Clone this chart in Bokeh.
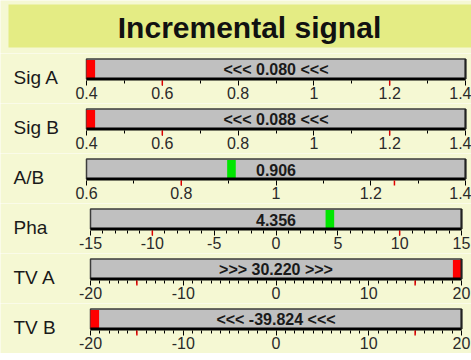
from bokeh.plotting import figure
from bokeh.models import Range1d, LinearAxis, FixedTicker, NumeralTickFormatter
from bokeh.layouts import column
from bokeh.core.properties import value
from bokeh.embed import file_html
from bokeh.resources import INLINE

# ---- data ----
TITLE = "Incremental signal"
names = ["Sig A", "Sig B", "A/B", "Pha", "TV A", "TV B"]
values = [0.080, 0.088, 0.906, 4.356, 30.220, -39.824]
starts = [0.4, 0.4, 0.6, -15, -20, -20]
ends = [1.4, 1.4, 1.4, 15, 20, 20]
lo_limits = [0.6, 0.6, 0.8, -10, -15, -15]
hi_limits = [1.2, 1.2, 1.25, 10, 15, 15]
major_ticks = [
    [0.4, 0.6, 0.8, 1.0, 1.2, 1.4],
    [0.4, 0.6, 0.8, 1.0, 1.2, 1.4],
    [0.6, 0.8, 1.0, 1.2, 1.4],
    [-15, -10, -5, 0, 5, 10, 15],
    [-20, -10, 0, 10, 20],
    [-20, -10, 0, 10, 20],
]
minor_per_major = [2, 2, 2, 5, 10, 10]

# ---- style / layout ----
BG = "#f5f8d3"
BAND = "#e4ec84"
BARC = "#c0c0c0"
FONT = "Liberation Sans"
W = 471
ROW_H = 50
TITLE_H = 53
BAR_TOP = 5.5
BAR_BOT = 25.5
AXIS_Y = 27

plots = []

t = figure(width=W, height=TITLE_H, x_range=Range1d(0, W), y_range=Range1d(TITLE_H, 0),
           x_axis_type=None, y_axis_type=None, toolbar_location=None,
           output_backend="svg", min_border_left=0, min_border_right=0,
           min_border_top=0, min_border_bottom=0,
           background_fill_color=BG, border_fill_color=BG, outline_line_color=None)
t.quad(left=[8], right=[W], top=[4], bottom=[47], fill_color=BAND, line_color=None)
t.text(x=[249], y=[26.5], text=[TITLE], text_font=value(FONT), text_font_style="bold",
       text_font_size="30px", text_align="center", text_baseline="middle", text_color="#111111")
plots.append(t)

for i, name in enumerate(names):
    s, e = starts[i], ends[i]
    wide = abs(s) >= 10
    px_l, px_r = (90, 461) if wide else (86, 465)
    k = (e - s) / (px_r - px_l)
    x0, x1 = s - px_l * k, e + (W - px_r) * k
    p = figure(width=W, height=ROW_H, x_range=Range1d(x0, x1), y_range=Range1d(ROW_H, 0),
               x_axis_type=None, y_axis_type=None, toolbar_location=None,
               output_backend="svg", min_border_left=0, min_border_right=0,
               min_border_top=0, min_border_bottom=0,
               background_fill_color=BG, border_fill_color=BG, outline_line_color=None)
    # track
    p.quad(left=[s], right=[e], bottom=[BAR_BOT], top=[BAR_TOP], fill_color=BARC,
           line_color="#3c3c3c", line_width=1.5)
    # marker
    v = values[i]
    half = 4.3 * k
    cx = min(max(v, s + half), e - half)
    col = "#00e600" if lo_limits[i] <= v <= hi_limits[i] else "#ff0000"
    p.quad(left=[cx - half], right=[cx + half], bottom=[BAR_BOT - 0.5], top=[BAR_TOP + 1],
           fill_color=col, line_color=None)
    # bottom black line
    p.segment(x0=[s], y0=[BAR_BOT], x1=[e], y1=[BAR_BOT], line_color="black", line_width=3)
    # right edge
    p.segment(x0=[e], y0=[BAR_TOP], x1=[e], y1=[BAR_BOT], line_color="#222222", line_width=2)
    # value text
    if v < s:
        txt = "<<< %.3f <<<" % v
    elif v > e:
        txt = ">>> %.3f >>>" % v
    else:
        txt = "%.3f" % v
    p.text(x=[(s + e) / 2], y=[(BAR_TOP + BAR_BOT) / 2 + 0.5], text=[txt], text_font=value(FONT),
           text_font_style="bold", text_font_size="16px", text_align="center",
           text_baseline="middle", text_color="#1a1a1a")
    # row label
    p.text(x=[x0 + 13 * k], y=[24], text=[name], text_font=value(FONT),
           text_font_size="19px", text_align="left", text_baseline="middle",
           text_color="#1a1a1a")
    # axis
    mj = major_ticks[i]
    n = minor_per_major[i]
    mn = [mj[j] + (mj[j + 1] - mj[j]) * m / n for j in range(len(mj) - 1) for m in range(1, n)]
    ax = LinearAxis(ticker=FixedTicker(ticks=mj, minor_ticks=mn),
                    formatter=NumeralTickFormatter(format="0.[00]"),
                    fixed_location=AXIS_Y,
                    axis_line_color=None, major_tick_in=0, major_tick_out=5,
                    minor_tick_in=0, minor_tick_out=3,
                    major_tick_line_color="black", minor_tick_line_color="black",
                    major_tick_line_width=1, minor_tick_line_width=1,
                    major_label_standoff=1, major_label_text_font=FONT,
                    major_label_text_font_size="16px", major_label_text_color="#2a2a2a")
    p.add_layout(ax, "below")
    # limit ticks (drawn over the axis ticks)
    r = p.segment(x0=[lo_limits[i], hi_limits[i]], y0=[AXIS_Y, AXIS_Y],
                  x1=[lo_limits[i], hi_limits[i]], y1=[AXIS_Y + 5, AXIS_Y + 5],
                  line_color="#e00000", line_width=1.5)
    r.level = "overlay"
    plots.append(p)

layout = column(*plots, spacing=0)
open("out.html", "w").write(file_html(layout, INLINE))
